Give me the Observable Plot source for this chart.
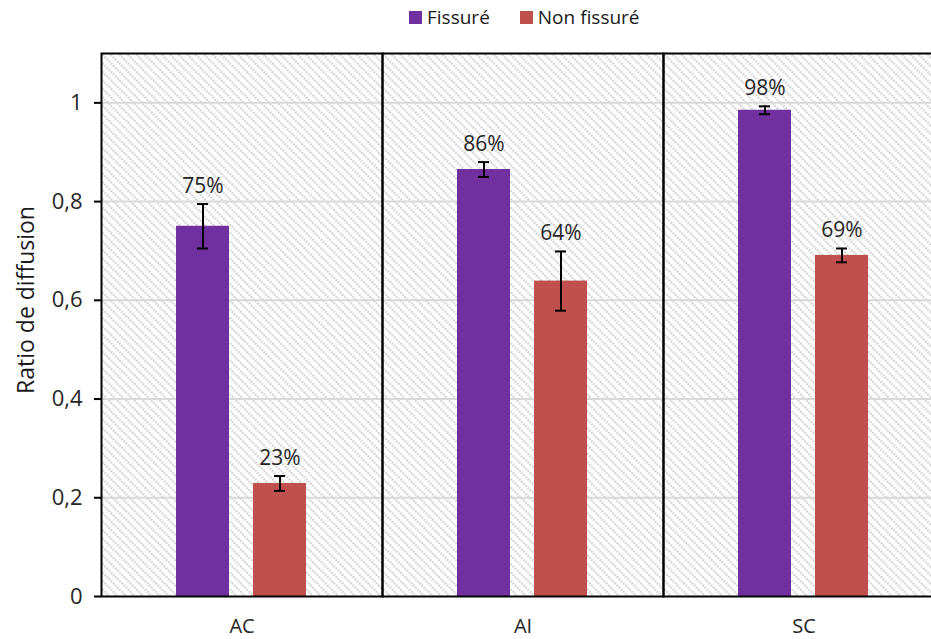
<!DOCTYPE html>
<html>
<head>
<meta charset="utf-8">
<script src="https://cdn.jsdelivr.net/npm/d3@7"></script>
<script src="https://cdn.jsdelivr.net/npm/@observablehq/plot@0.6"></script>
<style>
  html, body { margin: 0; padding: 0; background: #fff; overflow: hidden; }
  #wrap { position: relative; width: 931px; height: 639px; overflow: hidden; font-family: "Open Sans", sans-serif; }
  #legend { position: absolute; top: 3px; left: 409px; display: flex; align-items: center; font-size: 19px; color: #1a1a1a; height: 28px; }
  .item { display: flex; align-items: center; margin-right: 30px; }
  .sw { width: 13px; height: 13px; margin-right: 5px; display: inline-block; }
  #chart { position: absolute; top: 36px; left: 0; width: 944px; }
  #chart svg { max-width: none !important; }
  #ytitle { position: absolute; left: 25px; top: 300px; transform: translate(-50%, -50%) rotate(-90deg); font-size: 23px; color: #1a1a1a; white-space: nowrap; line-height: 1; }
</style>
</head>
<body>
<div id="wrap">
  <div id="legend"></div>
  <div id="chart"></div>
  <div id="ytitle"></div>
</div>
<script>
const groups = ["AC", "AI", "SC"];
const series = ["Fissuré", "Non fissuré"];
const colors = ["#7030A0", "#C0504D"];
const fissure = [0.75, 0.865, 0.985];
const nonFissure = [0.229, 0.639, 0.691];
const fissureErr = [0.045, 0.015, 0.008];
const nonFissureErr = [0.015, 0.06, 0.014];
const fissureLabels = ["75%", "86%", "98%"];
const nonFissureLabels = ["23%", "64%", "69%"];
const yTicks = [0, 0.2, 0.4, 0.6, 0.8, 1];
const yTitle = "Ratio de diffusion";

const data = [];
groups.forEach((g, i) => {
  data.push({group: g, series: series[0], value: fissure[i], err: fissureErr[i], label: fissureLabels[i]});
  data.push({group: g, series: series[1], value: nonFissure[i], err: nonFissureErr[i], label: nonFissureLabels[i]});
});
data.forEach(d => { d.lo = d.value - d.err; d.hi = d.value + d.err; });

// legend
const legend = document.getElementById("legend");
series.forEach((s, i) => {
  const it = document.createElement("div");
  it.className = "item";
  it.innerHTML = `<span class="sw" style="background:${colors[i]}"></span><span>${s}</span>`;
  legend.appendChild(it);
});
document.getElementById("ytitle").textContent = yTitle;

const fmt = d => String(d).replace(".", ",");

const chart = Plot.plot({
  width: 944,
  height: 603,
  marginLeft: 100,
  marginRight: 0,
  marginTop: 17,
  marginBottom: 43,
  style: {fontFamily: "Open Sans, sans-serif", fontSize: "20px", color: "#262626", background: "transparent", maxWidth: "none"},
  fx: {domain: groups, padding: 0, label: null, axis: "bottom", tickSize: 0, tickPadding: 22},
  x: {domain: series, axis: null, paddingInner: 0.31, paddingOuter: 0.96},
  y: {domain: [0, 1.1], ticks: yTicks, tickFormat: fmt, tickSize: 7, tickPadding: 12, label: null},
  color: {domain: series, range: colors},
  marks: [
    Plot.frame({fill: "url(#hatch)"}),
    Plot.ruleY(yTicks.slice(1), {stroke: "#d9d9d9", strokeWidth: 2}),
    Plot.barY(data, {fx: "group", x: "series", y: "value", fill: "series"}),
    Plot.ruleX(data, {fx: "group", x: "series", y1: "lo", y2: "hi", stroke: "#000", strokeWidth: 2}),
    Plot.tickY(data, {fx: "group", x: "series", y: "lo", stroke: "#000", strokeWidth: 2, insetLeft: 21, insetRight: 21}),
    Plot.tickY(data, {fx: "group", x: "series", y: "hi", stroke: "#000", strokeWidth: 2, insetLeft: 21, insetRight: 21}),
    Plot.text(data, {fx: "group", x: "series", y: "hi", text: "label", dy: -18, fontSize: 21, fill: "#262626"}),
    Plot.frame({stroke: "#000", strokeWidth: 2})
  ]
});
chart.style.maxWidth = "none";

// hatch pattern definition
const ns = "http://www.w3.org/2000/svg";
const defs = document.createElementNS(ns, "defs");
defs.innerHTML = `<pattern id="hatch" patternUnits="userSpaceOnUse" width="6" height="6" patternTransform="rotate(45)">
  <rect width="6" height="6" fill="#ffffff"></rect>
  <line x1="0" y1="1.5" x2="6" y2="1.5" stroke="#cfcfcf" stroke-width="2" stroke-dasharray="2 1"></line>
</pattern>`;
chart.insertBefore(defs, chart.firstChild);

// enlarge axis tick labels
const yLabels = new Set(yTicks.map(fmt));
const fxLabels = new Set(groups);
chart.querySelectorAll("text").forEach(t => {
  const s = t.textContent.trim();
  if (yLabels.has(s)) {
    t.style.setProperty("font-size", "22px", "important");
    t.style.fill = "#262626";
  } else if (fxLabels.has(s)) {
    t.style.setProperty("font-size", "20px", "important");
    t.style.fill = "#262626";
  }
});
chart.querySelectorAll('g[aria-label^="y-axis tick"] path, g[aria-label="y-axis"] path').forEach(p => {
  p.setAttribute("stroke", "#000");
  p.setAttribute("stroke-width", "2");
});

document.getElementById("chart").appendChild(chart);
</script>
</body>
</html>
